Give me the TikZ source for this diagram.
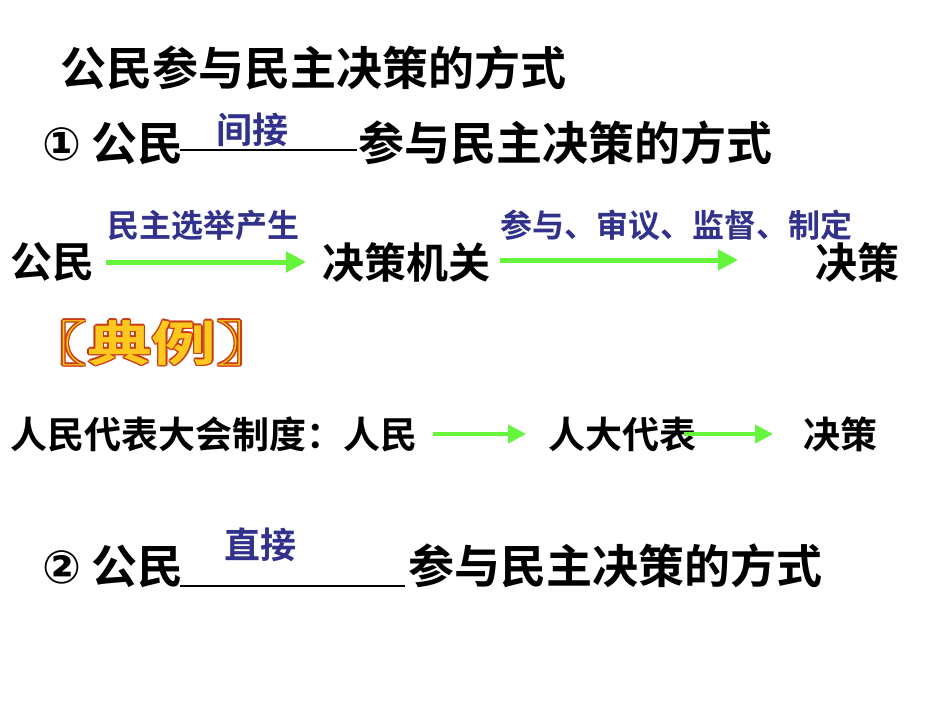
\documentclass[tikz,border=0pt]{standalone}
\usepackage{fontspec}
\usepackage{graphicx}
\newfontfamily\cjk{Noto Sans CJK SC Bold}
\newfontfamily\djv{DejaVu Sans Bold}
\usetikzlibrary{arrows.meta}
\definecolor{lblue}{RGB}{50,50,140}
\definecolor{garrow}{RGB}{100,245,60}
\definecolor{dlout}{RGB}{200,60,20}
\definecolor{dlfill}{RGB}{255,200,30}
\tikzset{
 txt/.style={anchor=west,inner sep=0pt,font=\cjk\fontsize{42}{42}\selectfont},
 big/.style={anchor=west,inner sep=0pt,font=\cjk\fontsize{46}{46}\selectfont},
 lbl/.style={anchor=west,inner sep=0pt,text=lblue,font=\cjk\fontsize{32}{32}\selectfont},
 mid/.style={anchor=west,inner sep=0pt,font=\cjk\fontsize{37}{37}\selectfont},
 garr/.style={draw=garrow,line width=5pt,-{Triangle[length=20pt,width=20pt]}},
 uline/.style={line width=1.2pt},
 dl/.style={anchor=west,inner sep=0pt,font=\cjk\fontsize{48}{48}\selectfont}
}
\begin{document}
\begin{tikzpicture}[x=1pt,y=-1pt]
\useasboundingbox[fill=white] (0,0) rectangle (950,713);
\node[big] (t) at (60,68) {公民参与民主决策的方式};
\node[big] (a1) at (42,143) {{\djv ①} 公民};
\coordinate (u1a) at (180,150); \coordinate (u1b) at (357,150);
\draw[uline] (u1a) -- (u1b);
\node[lbl,anchor=center,font=\cjk\fontsize{36}{36}\selectfont] (l1) at (252,130) {间接};
\node[big] (a1r) at (358,143) {参与民主决策的方式};
\node[txt] (g) at (10,262) {公民};
\node[txt] (j) at (322,262) {决策机关};
\node[txt] (d) at (815,262) {决策};
\node[lbl] (x1) at (107,225) {民主选举产生};
\node[lbl] (x2) at (500,225) {参与、审议、监督、制定};
\draw[garr] ([xshift=12pt]g.east) -- ([xshift=-16pt]j.west);
\draw[garr] ([xshift=10pt,yshift=2pt]j.east) -- ([xshift=-77pt,yshift=2pt]d.west);
\foreach \dx/\dy in {-1.5/0,1.5/0,0/-1.5,0/1.5,-1/-1,1/1,-1/1,1/-1}
  \node[dl,text=dlout] at (22+\dx,343+\dy) {\scalebox{1.35}[1]{〖典例〗}};
\node[dl,text=dlfill] (dl) at (22,343) {\scalebox{1.35}[1]{〖典例〗}};
\node[mid] (r) at (10,434) {人民代表大会制度：人民};
\node[mid] (rd) at (548,434) {人大代表};
\node[mid] (rj) at (803,434) {决策};
\draw[garr,line width=4pt,-{Triangle[length=18pt,width=18pt]}] ([xshift=16pt]r.east) -- ([xshift=-22pt]rd.west);
\draw[garr,line width=4pt,-{Triangle[length=18pt,width=18pt]}] ([xshift=-12pt]rd.east) -- ([xshift=-30pt]rj.west);
\node[big] (a2) at (42,566) {{\djv ②} 公民};
\coordinate (u2a) at (180,586); \coordinate (u2b) at (405,586);
\draw[uline] (u2a) -- (u2b);
\node[lbl,anchor=center,font=\cjk\fontsize{36}{36}\selectfont] (l2) at (260,545) {直接};
\node[big] (a2r) at (408,566) {参与民主决策的方式};
\end{tikzpicture}
\end{document}
